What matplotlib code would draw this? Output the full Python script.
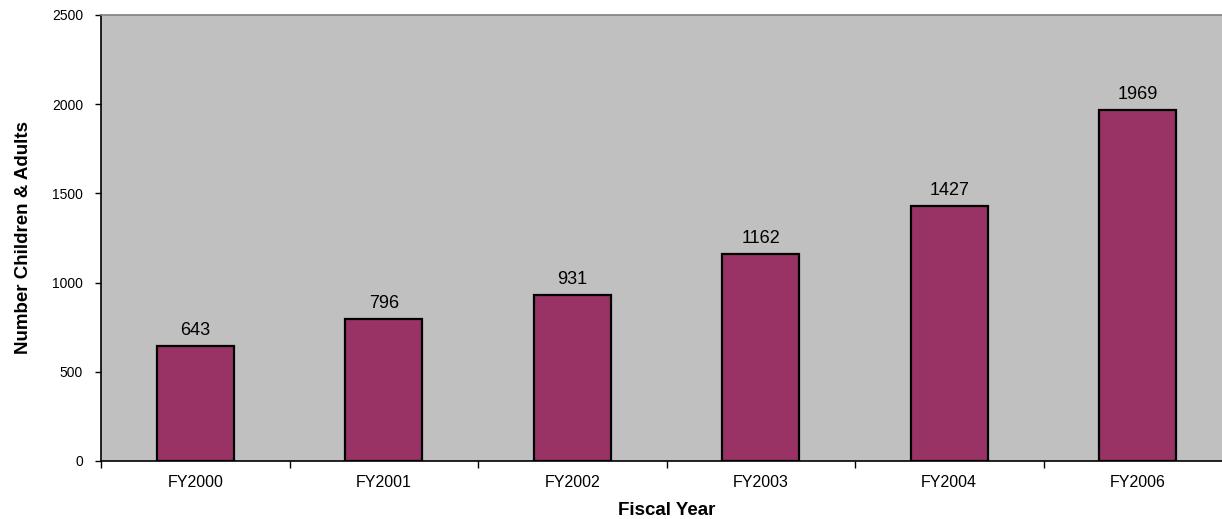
import matplotlib.pyplot as plt
import numpy as np

plt.rcParams["font.family"] = ["Liberation Sans", "DejaVu Sans"]

YEARS = ["FY2000", "FY2001", "FY2002", "FY2003", "FY2004", "FY2006"]
COUNTS = [643, 796, 931, 1162, 1427, 1969]
YTICKS = [0, 500, 1000, 1500, 2000, 2500]

BAR = "#993366"
BG = "#C0C0C0"

fig = plt.figure(figsize=(12.22, 5.19), dpi=100)
# plot area runs slightly past the right edge of the picture, as in the original
ax = fig.add_axes([101 / 1222, 58 / 519, 1131 / 1222, 446 / 519])
ax.set_facecolor(BG)

x = np.arange(len(YEARS))
ax.bar(x, COUNTS, 0.41, color=BAR, edgecolor="black", linewidth=1.6)
for xi, v in zip(x, COUNTS):
    ax.text(xi, v + 40, str(v), ha="center", va="bottom", fontsize=13)

ax.set_xlim(-0.5, len(YEARS) - 0.5)
ax.set_ylim(0, 2500)
ax.set_yticks(YTICKS)
ax.set_yticklabels([str(t) for t in YTICKS], fontsize=10)

# category labels centered, ticks at category boundaries (Excel style)
ax.set_xticks(np.arange(len(YEARS) + 1) - 0.5)
ax.set_xticklabels([])
ax.set_xticks(x, minor=True)
ax.set_xticklabels(YEARS, minor=True, fontsize=11.5)
ax.tick_params(axis="x", which="minor", length=0, pad=10)
ax.tick_params(axis="x", which="major", length=5, width=1, direction="out")
ax.tick_params(axis="y", length=4, width=1, direction="out", pad=9)

ax.spines["top"].set_color("#808080")
ax.spines["top"].set_linewidth(1.2)
ax.spines["right"].set_visible(False)
ax.spines["left"].set_linewidth(1.2)
ax.spines["bottom"].set_linewidth(1.2)

ax.set_xlabel("Fiscal Year", fontsize=13.5, fontweight="bold", labelpad=8.5)
ax.set_ylabel("Number Children & Adults", fontsize=13.5, fontweight="bold", labelpad=14)

fig.savefig("out.png", dpi=100)
